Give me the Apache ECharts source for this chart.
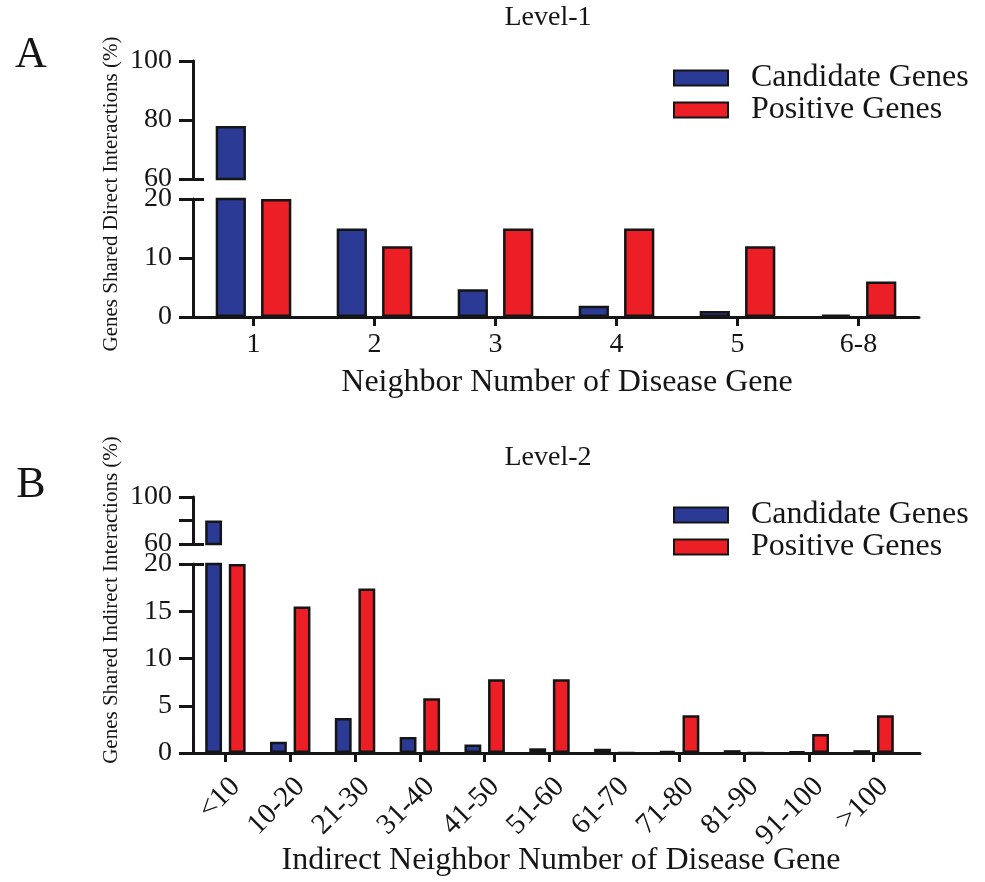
<!DOCTYPE html>
<html>
<head>
<meta charset="utf-8">
<script src="https://cdn.jsdelivr.net/npm/echarts@6/dist/echarts.min.js"></script>
<style>
  html, body { margin: 0; padding: 0; background: #ffffff; }
  #chart { width: 985px; height: 882px; }
</style>
</head>
<body>
<div id="chart"></div>
<script>
// Level-1: direct neighbours
const directCategories = ['1', '2', '3', '4', '5', '6-8'];
const directCandidate = [78, 15, 4.7, 1.9, 1.0, 0.4];
const directPositive = [20, 12, 15, 15, 12, 6];

// Level-2: indirect neighbours
const indirectCategories = ['<10', '10-20', '21-30', '31-40', '41-50', '51-60', '61-70', '71-80', '81-90', '91-100', '>100'];
const indirectCandidate = [80, 1.2, 3.7, 1.7, 0.9, 0.5, 0.45, 0.2, 0.3, 0.15, 0.3];
const indirectPositive = [20, 15.5, 17.4, 5.8, 7.8, 7.8, 0, 4, 0, 2, 4];

// y-axis ticks on each side of the axis break
const directUpperTicks = [60, 80, 100];
const directLowerTicks = [0, 10, 20];
const indirectUpperTicks = [60, 80, 100];
const indirectUpperLabels = [60, 100];
const indirectLowerTicks = [0, 5, 10, 15, 20];

const seriesNames = ['Candidate Genes', 'Positive Genes'];
const seriesColors = ['#2b3a94', '#ec1f26'];

const FONT = 'Liberation Serif';
const INK = '#151515';

function valueAxis(gridIndex, ticks, extra) {
  return Object.assign({
    type: 'value',
    gridIndex: gridIndex,
    position: 'left',
    min: ticks[0],
    max: ticks[ticks.length - 1],
    interval: ticks[1] - ticks[0],
    axisLine: { show: true, onZero: false, lineStyle: { color: INK, width: 3 } },
    axisTick: { show: true, length: 14, lineStyle: { color: INK, width: 3 } },
    axisLabel: { fontFamily: FONT, fontSize: 28, color: INK, margin: 21 },
    splitLine: { show: false }
  }, extra || {});
}

// inward half of the tick that marks each end of the break
function breakTickAxis(gridIndex, ticks, at) {
  return {
    type: 'value',
    gridIndex: gridIndex,
    position: 'left',
    min: ticks[0],
    max: ticks[ticks.length - 1],
    interval: ticks[1] - ticks[0],
    axisLine: { show: false },
    axisLabel: { show: false },
    splitLine: { show: false },
    axisTick: { show: true, inside: true, length: 11, customValues: [at], lineStyle: { color: INK, width: 3 } }
  };
}

function categoryAxis(gridIndex, cats, visible, extra) {
  return Object.assign({
    type: 'category',
    gridIndex: gridIndex,
    data: cats,
    show: visible,
    axisLine: { show: true, onZero: false, lineStyle: { color: INK, width: 3 } },
    axisTick: { show: true, alignWithLabel: true, interval: 0, length: 9, lineStyle: { color: INK, width: 3 } },
    axisLabel: { interval: 0, fontFamily: FONT, fontSize: 28, color: INK, margin: 14 }
  }, extra || {});
}

function bars(name, color, data, xi, yi, width, gap) {
  return {
    type: 'bar',
    name: name,
    xAxisIndex: xi,
    yAxisIndex: yi,
    data: data,
    barWidth: width,
    barGap: gap,
    clip: true,
    itemStyle: { color: color, borderColor: INK, borderWidth: 2.5 },
    emphasis: { disabled: true }
  };
}

// only values reaching the upper segment are drawn there
function aboveBreak(values, ticks) {
  return values.map(function (v) { return v >= ticks[0] ? v : '-'; });
}

function plotGrid(left, width, top, height) {
  return { left: left, width: width, top: top, height: height, outerBoundsMode: 'none', containLabel: false };
}

const legendBase = {
  data: seriesNames,
  orient: 'vertical',
  left: 673,
  padding: 0,
  itemWidth: 54,
  itemHeight: 15,
  itemGap: 0,
  icon: 'rect',
  selectedMode: false,
  textStyle: { fontFamily: FONT, fontSize: 32, color: INK, lineHeight: 32, padding: [0, 0, 0, 18] }
};

const option = {
  animation: false,
  backgroundColor: '#ffffff',
  grid: [
    plotGrid(193, 726, 61, 118),   // Level-1 upper
    plotGrid(193, 726, 199, 118),  // Level-1 lower
    plotGrid(193, 713, 497, 47),   // Level-2 upper
    plotGrid(193, 713, 564, 189),  // Level-2 lower
    plotGrid(193, 727, 564, 189)   // Level-2 baseline run-out
  ],
  xAxis: [
    categoryAxis(0, directCategories, false),
    categoryAxis(1, directCategories, true, {
      name: 'Neighbor Number of Disease Gene',
      nameLocation: 'middle',
      nameGap: 50,
      nameMoveOverlap: false,
      nameTextStyle: { fontFamily: FONT, fontSize: 32, color: INK, padding: [0, 0, 0, 22] }
    }),
    categoryAxis(2, indirectCategories, false),
    categoryAxis(3, indirectCategories, true, {
      axisLabel: {
        interval: 0, rotate: 45, align: 'right', verticalAlign: 'top',
        fontFamily: FONT, fontSize: 29, color: INK, margin: 19
      },
      name: 'Indirect Neighbor Number of Disease Gene',
      nameLocation: 'middle',
      nameGap: 92,
      nameMoveOverlap: false,
      nameTextStyle: { fontFamily: FONT, fontSize: 32, color: INK, padding: [0, 0, 0, 23] }
    }),
    {
      type: 'value', gridIndex: 4, min: 0, max: 1, position: 'bottom',
      axisLine: { show: true, onZero: false, lineStyle: { color: INK, width: 3 } },
      axisTick: { show: false }, axisLabel: { show: false }, splitLine: { show: false }
    }
  ],
  yAxis: [
    valueAxis(0, directUpperTicks),
    breakTickAxis(0, directUpperTicks, directUpperTicks[0]),
    valueAxis(1, directLowerTicks),
    breakTickAxis(1, directLowerTicks, directLowerTicks[directLowerTicks.length - 1]),
    valueAxis(2, indirectUpperTicks, {
      axisLabel: { fontFamily: FONT, fontSize: 28, color: INK, margin: 21, customValues: indirectUpperLabels }
    }),
    breakTickAxis(2, indirectUpperTicks, indirectUpperTicks[0]),
    valueAxis(3, indirectLowerTicks),
    breakTickAxis(3, indirectLowerTicks, indirectLowerTicks[indirectLowerTicks.length - 1]),
    { type: 'value', gridIndex: 4, min: 0, max: 1, show: false }
  ],
  legend: [
    Object.assign({}, legendBase, { top: 62 }),
    Object.assign({}, legendBase, { top: 499 })
  ],
  series: [
    bars(seriesNames[0], seriesColors[0], aboveBreak(directCandidate, directUpperTicks), 0, 0, '25%', '50%'),
    bars(seriesNames[1], seriesColors[1], aboveBreak(directPositive, directUpperTicks), 0, 0, '25%', '50%'),
    bars(seriesNames[0], seriesColors[0], directCandidate, 1, 2, '25%', '50%'),
    bars(seriesNames[1], seriesColors[1], directPositive, 1, 2, '25%', '50%'),
    bars(seriesNames[0], seriesColors[0], aboveBreak(indirectCandidate, indirectUpperTicks), 2, 4, '26%', '40%'),
    bars(seriesNames[1], seriesColors[1], aboveBreak(indirectPositive, indirectUpperTicks), 2, 4, '26%', '40%'),
    bars(seriesNames[0], seriesColors[0], indirectCandidate, 3, 6, '26%', '40%'),
    bars(seriesNames[1], seriesColors[1], indirectPositive, 3, 6, '26%', '40%')
  ],
  graphic: [
    { type: 'text', x: 31, y: 55, style: { text: 'A', fontFamily: FONT, fontSize: 44, fill: INK, align: 'center', verticalAlign: 'middle' } },
    { type: 'text', x: 31, y: 485, style: { text: 'B', fontFamily: FONT, fontSize: 44, fill: INK, align: 'center', verticalAlign: 'middle' } },
    { type: 'text', x: 548, y: 18, style: { text: 'Level-1', fontFamily: FONT, fontSize: 28, fill: INK, align: 'center', verticalAlign: 'middle' } },
    { type: 'text', x: 548, y: 458, style: { text: 'Level-2', fontFamily: FONT, fontSize: 28, fill: INK, align: 'center', verticalAlign: 'middle' } },
    { type: 'text', x: 111, y: 194, rotation: Math.PI / 2, style: { text: 'Genes Shared Direct Interactions (%)', fontFamily: FONT, fontSize: 21, fill: INK, align: 'center', verticalAlign: 'middle' } },
    { type: 'text', x: 111, y: 600, rotation: Math.PI / 2, style: { text: 'Genes Shared Indirect Interactions (%)', fontFamily: FONT, fontSize: 21, fill: INK, align: 'center', verticalAlign: 'middle' } }
  ]
};

const chart = echarts.init(document.getElementById('chart'), null, { renderer: 'canvas' });
chart.setOption(option);
</script>
</body>
</html>
